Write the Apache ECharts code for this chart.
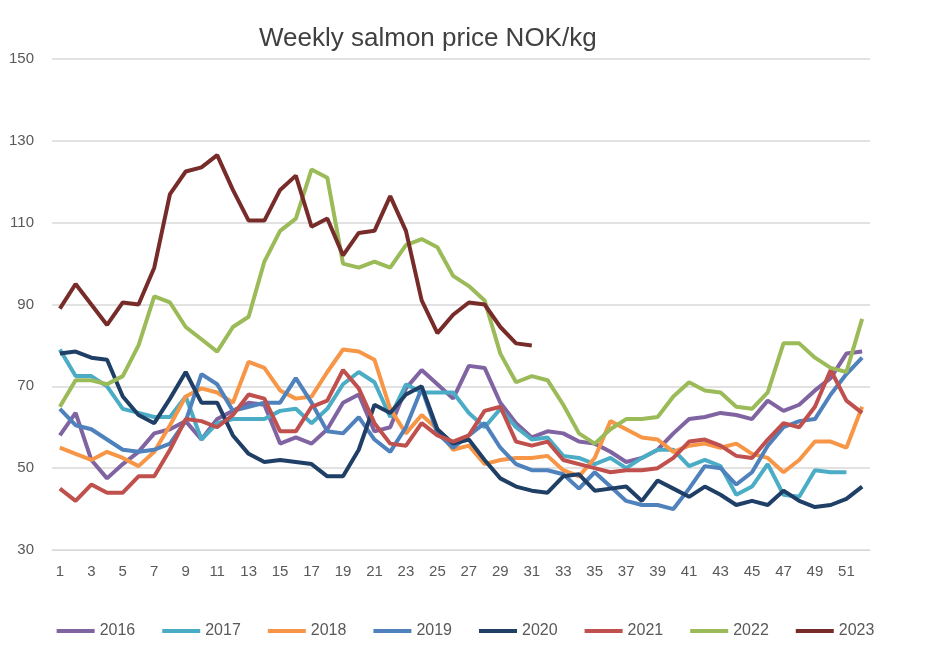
<!DOCTYPE html>
<html>
<head>
<meta charset="utf-8">
<script src="https://cdn.jsdelivr.net/npm/echarts@6/dist/echarts.min.js"></script>
<style>
  html, body { margin: 0; padding: 0; background: #fff; }
  #chart { width: 931px; height: 664px; }
</style>
</head>
<body>
<div id="chart"></div>
<script>
// weeks 1..52
var weeks = [];
for (var w = 1; w <= 52; w++) weeks.push(String(w));

var y2016 = [58, 63.5, 52, 47.5, 51, 54, 58.5, 59.5, 61.5, 57, 62, 64, 66, 65.5, 56, 57.5, 56, 59.5, 66, 68, 59, 60, 69.5, 74, 70.5, 67, 75, 74.5, 66, 61, 57.5, 59, 58.5, 56.5, 56, 54, 51.5, 52.5, 54.5, 58.5, 62, 62.5, 63.5, 63, 62, 66.5, 64, 65.5, 69, 72, 78, 78.5];
var y2017 = [79, 72.5, 72.5, 70, 64.5, 63.5, 62.5, 62.5, 67.5, 57, 61, 62, 62, 62, 64, 64.5, 61, 64.5, 70.5, 73.5, 71, 62.5, 70.5, 68.5, 68.5, 68.5, 63.5, 60, 64.5, 60, 57, 57.5, 53, 52.5, 51, 52.5, 50, 52.5, 54.5, 54.5, 50.5, 52, 50.5, 43.5, 45.5, 51, 43.5, 43, 49.5, 49, 49, null];
var y2018 = [55, 53.5, 52, 54, 52.5, 50.5, 54, 60.5, 67.5, 69.5, 68.5, 66, 76, 74.5, 69, 67, 67.5, 73.5, 79, 78.5, 76.5, 64.5, 58.5, 63, 59.5, 54.5, 55.5, 51, 52, 52.5, 52.5, 53, 49.5, 48, 52.5, 61.5, 59.5, 57.5, 57, 54, 55.5, 56, 55, 56, 53.5, 52.5, 49, 52, 56.5, 56.5, 55, 65];
var y2019 = [64.5, 60.5, 59.5, 57, 54.5, 54, 54.5, 56, 61.5, 73, 70.5, 64, 65, 66, 66, 72, 66, 59, 58.5, 62.5, 57, 54, 60, 69.5, 58.5, 55, 58, 61, 55, 51, 49.5, 49.5, 48.5, 45, 49, 45.5, 42, 41, 41, 40, 45, 50.5, 50, 46, 49, 55.5, 60, 61.5, 62, 68, 73, 77];
var y2020 = [78, 78.5, 77, 76.5, 67.5, 63, 61, 67, 73.5, 66, 66, 58, 53.5, 51.5, 52, 51.5, 51, 48, 48, 54.5, 65.5, 63.5, 68, 70, 59.5, 56, 57, 52, 47.5, 45.5, 44.5, 44, 48, 48.5, 44.5, 45, 45.5, 42, 47, 45, 43, 45.5, 43.5, 41, 42, 41, 44.5, 42, 40.5, 41, 42.5, 45.5];
var y2021 = [45, 42, 46, 44, 44, 48, 48, 54.5, 62, 61.5, 60, 63, 68, 67, 59, 59, 65, 66.5, 74, 69.5, 61, 56, 55.5, 61, 58, 56.5, 58, 64, 65, 56.5, 55.5, 56.5, 52, 51, 50, 49, 49.5, 49.5, 50, 52.5, 56.5, 57, 55.5, 53, 52.5, 57, 61, 60, 65, 74, 66.5, 63.5];
var y2022 = [65, 71.5, 71.5, 70.5, 72.5, 80, 92, 90.5, 84.5, 81.5, 78.5, 84.5, 87, 100.5, 108, 111, 123, 121, 100, 99, 100.5, 99, 104.5, 106, 104, 97, 94.5, 91, 78, 71, 72.5, 71.5, 65.5, 58.5, 56, 59.5, 62, 62, 62.5, 67.5, 71, 69, 68.5, 65, 64.5, 68.5, 80.5, 80.5, 77, 74.5, 73.5, 86.5];
var y2023 = [89, 95, 90, 85, 90.5, 90, 99, 117, 122.5, 123.5, 126.5, 118, 110.5, 110.5, 118, 121.5, 109, 111, 102, 107.5, 108, 116.5, 108, 91, 83, 87.5, 90.5, 90, 84.5, 80.5, 80];

var names = ['2016', '2017', '2018', '2019', '2020', '2021', '2022', '2023'];
var colors = ['#8064a2', '#4bacc6', '#f79646', '#4f81bd', '#1f3f66', '#c0504d', '#9bbb59', '#772c2a'];
var data = [y2016, y2017, y2018, y2019, y2020, y2021, y2022, y2023];

var series = [];
for (var i = 0; i < names.length; i++) {
    series.push({
        name: names[i],
        type: 'line',
        data: data[i],
        symbol: 'none',
        lineStyle: { width: 4, color: colors[i] },
        itemStyle: { color: colors[i] }
    });
}

var myChart = echarts.init(document.getElementById('chart'));
myChart.setOption({
    animation: false,
    title: {
        text: 'Weekly salmon price NOK/kg',
        left: 254, top: 21,
        textStyle: { fontFamily: 'Liberation Sans', fontSize: 26, fontWeight: 'normal', color: '#404040' }
    },
    legend: {
        bottom: 20, left: 'center', itemGap: 27,
        icon: 'rect', itemWidth: 38, itemHeight: 4,
        textStyle: { fontFamily: 'Liberation Sans', fontSize: 16, color: '#595959' },
        data: names
    },
    grid: { left: 52, right: 61, top: 59, bottom: 114 },
    xAxis: {
        type: 'category',
        data: weeks,
        boundaryGap: true,
        axisLine: { lineStyle: { color: '#d9d9d9' } },
        axisTick: { show: false },
        axisLabel: { interval: 1, color: '#595959', fontSize: 15, fontFamily: 'Liberation Sans', margin: 14 }
    },
    yAxis: {
        type: 'value',
        min: 30, max: 150, interval: 20,
        axisLine: { show: false },
        axisTick: { show: false },
        splitLine: { lineStyle: { color: '#d9d9d9', width: 1.5 } },
        axisLabel: { color: '#595959', fontSize: 15, fontFamily: 'Liberation Sans', margin: 18 }
    },
    series: series
});
</script>
</body>
</html>
